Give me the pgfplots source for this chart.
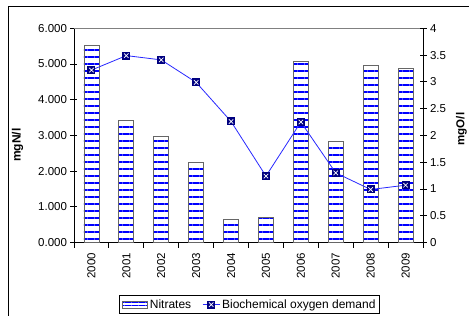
\documentclass[border=0pt]{standalone}
\usepackage{pgfplots}
\pgfplotsset{compat=1.18}
\usepackage{fontspec}
\setmainfont{Liberation Sans}
\usetikzlibrary{patterns.meta}
\definecolor{stripeblue}{RGB}{0,0,255}
\definecolor{lineblue}{RGB}{40,40,255}
\definecolor{markblue}{RGB}{0,0,128}
\pgfdeclareplotmark{sqx}{%
  \pgfsetfillcolor{markblue}%
  \pgfpathrectangle{\pgfqpoint{-\pgfplotmarksize}{-\pgfplotmarksize}}{\pgfqpoint{2\pgfplotmarksize}{2\pgfplotmarksize}}%
  \pgfusepath{fill}%
  \pgfsetstrokecolor{white}\pgfsetlinewidth{0.7pt}%
  \pgfpathmoveto{\pgfqpoint{-0.55\pgfplotmarksize}{-0.55\pgfplotmarksize}}%
  \pgfpathlineto{\pgfqpoint{0.55\pgfplotmarksize}{0.55\pgfplotmarksize}}%
  \pgfpathmoveto{\pgfqpoint{-0.55\pgfplotmarksize}{0.55\pgfplotmarksize}}%
  \pgfpathlineto{\pgfqpoint{0.55\pgfplotmarksize}{-0.55\pgfplotmarksize}}%
  \pgfusepath{stroke}%
}
\pgfplotstableread{
x nitr bod
0 5.53 3.22
1 3.42 3.49
2 2.96 3.41
3 2.25 2.99
4 0.65 2.26
5 0.71 1.24
6 5.06 2.25
7 2.82 1.30
8 4.95 0.99
9 4.89 1.07
}\data
\begin{document}
\begin{tikzpicture}[x=1pt,y=1pt]
\useasboundingbox (0,0) rectangle (469,316);
\draw[black, line width=0.8pt] (8,-20) |- (500,310);
\begin{axis}[
  at={(74pt,73.5pt)}, anchor=south west,
  scale only axis, width=349pt, height=214.2pt,
  xmin=-0.5, xmax=9.5, ymin=0, ymax=6,
  axis x line*=bottom, axis y line*=left,
  axis line style={black, line width=0.8pt, -},
  xtick={0,...,9},
  xticklabels={2000,2001,2002,2003,2004,2005,2006,2007,2008,2009},
  xticklabel style={rotate=90, anchor=east, font=\fontsize{11.5}{13}\selectfont},
  major x tick style={draw=none},
  minor xtick={-0.5,0.5,...,9.5},
  minor x tick style={black, line width=0.8pt},
  x tick style={black},
  xtick align=outside,
  minor tick length=5pt,
  ytick={0,1,...,6},
  ytick align=center,
  major tick length=7pt,
  y tick style={black, line width=0.8pt},
  yticklabel style={font=\fontsize{11.5}{13}\selectfont},
  /pgf/number format/.cd, fixed, fixed zerofill, precision=3, use period, assume math mode=true,
  /pgfplots/.cd,
  ylabel={\bfseries mgN/l},
  ylabel style={at={(axis description cs:-0.162,0.455)}, anchor=center, font=\fontsize{12}{14}\selectfont},
  clip=false,
]
\addplot[ybar, bar width=15pt, draw=black!60, line width=0.8pt,
  pattern={Lines[angle=0, distance=7pt, line width=2pt]}, pattern color=stripeblue]
  table[x=x, y=nitr] {\data};
\draw[gray, line width=0.8pt] (rel axis cs:0,1) -- (rel axis cs:1,1);
\end{axis}
\begin{axis}[
  at={(74pt,73.5pt)}, anchor=south west,
  scale only axis, width=349pt, height=214.2pt,
  xmin=-0.5, xmax=9.5, ymin=0, ymax=4,
  axis y line*=right, hide x axis,
  axis line style={black, line width=0.8pt, -},
  ytick={0,0.5,...,4},
  ytick align=center,
  major tick length=7pt,
  y tick style={black, line width=0.8pt},
  yticklabel style={font=\fontsize{11.5}{13}\selectfont},
  /pgf/number format/.cd, fixed, use period, assume math mode=true,
  /pgfplots/.cd,
  ylabel={\bfseries mgO/l},
  ylabel style={at={(axis description cs:1.11,0.53)}, anchor=center, font=\fontsize{11.5}{14}\selectfont},
  legend style={at={(axis description cs:0.503,-0.29)}, anchor=center,
    legend columns=2, draw=black, line width=0.6pt, font=\fontsize{12}{14}\selectfont,
    /tikz/every even column/.append style={column sep=9pt}, inner sep=2pt},
  clip=false,
]
\addlegendimage{legend image code/.code={\draw[draw=black!60, line width=0.8pt, pattern={Lines[angle=0, distance=3.5pt, line width=1.3pt]}, pattern color=stripeblue] (0pt,-3.5pt) rectangle (25pt,3.5pt);}}
\addlegendentry{Nitrates}
\addplot[lineblue, line width=0.8pt, mark=sqx, mark size=4pt] table[x=x, y=bod] {\data};
\addlegendentry{Biochemical oxygen demand}
\end{axis}
\end{tikzpicture}
\end{document}
